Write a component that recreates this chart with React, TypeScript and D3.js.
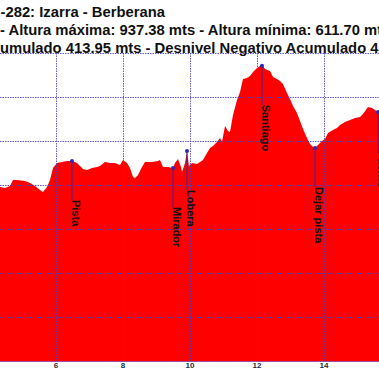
import React from 'react';
import * as d3 from 'd3';

const distKm = [4.0, 4.328, 4.478, 4.627, 4.716, 4.836, 5.075, 5.224, 5.373, 5.522, 5.612, 5.731, 5.821, 5.91, 6.03, 6.179, 6.328, 6.478, 6.627, 6.806, 6.925, 7.075, 7.224, 7.313, 7.463, 7.612, 7.761, 7.91, 8.0, 8.119, 8.209, 8.299, 8.358, 8.448, 8.567, 8.657, 8.866, 9.045, 9.104, 9.194, 9.343, 9.493, 9.552, 9.642, 9.731, 9.761, 9.851, 9.91, 9.97, 10.06, 10.209, 10.299, 10.388, 10.507, 10.597, 10.687, 10.806, 10.896, 10.955, 11.045, 11.134, 11.194, 11.284, 11.403, 11.493, 11.582, 11.701, 11.791, 11.881, 12.0, 12.09, 12.149, 12.239, 12.388, 12.478, 12.597, 12.687, 12.776, 12.896, 12.985, 13.075, 13.194, 13.284, 13.373, 13.493, 13.582, 13.672, 13.731, 13.821, 13.94, 14.03, 14.119, 14.269, 14.388, 14.478, 14.627, 14.776, 14.925, 15.075, 15.164, 15.313, 15.433, 15.522, 15.612, 15.8, 16.0];
const elevM = [796, 797.7, 796.6, 798.9, 805.7, 805.7, 804.5, 802.3, 798.9, 794.3, 792.0, 797.7, 805.7, 819.3, 825.0, 826.1, 827.3, 827.3, 825.0, 818.2, 817.0, 819.3, 820.5, 821.6, 826.1, 825.0, 825.0, 822.7, 828.4, 825.0, 819.3, 809.1, 808.0, 811.4, 820.5, 826.1, 826.1, 827.3, 828.4, 820.5, 820.5, 819.3, 825.0, 829.5, 820.5, 814.8, 825.0, 838.6, 821.6, 825.0, 823.9, 826.1, 828.4, 836.4, 842.0, 844.3, 848.9, 853.4, 848.9, 867.0, 861.4, 860.2, 879.5, 896.6, 905.7, 920.5, 921.6, 923.9, 928.4, 933.0, 935.2, 937.38, 931.8, 929.5, 922.7, 920.5, 918.2, 914.8, 904.5, 897.7, 889.8, 881.8, 872.7, 863.6, 853.4, 846.6, 843.2, 842.0, 845.5, 850.0, 852.3, 859.1, 862.5, 864.8, 868.2, 871.6, 873.9, 876.1, 877.3, 880.7, 888.6, 887.5, 885.2, 883.0, 880, 878];

const wpNames = ['Pista', 'Mirador', 'Lobera', 'Santiago', 'Dejar pista', 'Fuente'];
const wpKm = [6.478, 9.493, 9.91, 12.149, 13.731, 15.612];
const wpElev = [827.3, 819.3, 838.6, 935.5, 842.0, 883.0];

const xTicks = [6, 8, 10, 12, 14];
const yGrid = [600, 650, 700, 750, 800, 850, 900, 950];

const title1Prefix = 'GR';
const title1 = '-282: Izarra - Berberana';
const title2 = '- Altura máxima: 937.38 mts - Altura mínima: 611.70 mts';
const title3Prefix = 'Desnivel Positivo Ac';
const title3 = 'umulado 413.95 mts - Desnivel Negativo Acumulado 412.40 mts';

export default function App() {
  const W = 379, H = 379;
  const x = d3.scaleLinear().domain([4, 16]).range([-11, 391]);
  const y = d3.scaleLinear().domain([600, 950]).range([361, 53]);
  const area = d3.area<number>()
    .x((_, i) => x(distKm[i]))
    .y0(y(600))
    .y1(d => y(d));
  const font = '"Liberation Sans", Arial, sans-serif';
  const titleStyle = { fontFamily: font, fontWeight: 700, fontSize: '14.8px', fill: '#111' } as const;
  return (
    <svg width={W} height={H} style={{ position: 'absolute', left: 0, top: 0, background: '#fff' }}>
      <rect width={W} height={H} fill="#fff" />
      <path d={area(elevM) || ''} fill="#ff0000" />
      {yGrid.map(v => (
        <line key={'h' + v} x1={0} x2={W} y1={y(v) + 0.5} y2={y(v) + 0.5} stroke="#4a40c0" strokeWidth={1} strokeDasharray="1.5,1" strokeOpacity={0.85} />
      ))}
      {xTicks.map(v => (
        <line key={'v' + v} x1={Math.round(x(v)) + 0.5} x2={Math.round(x(v)) + 0.5} y1={y(950)} y2={y(600)} stroke="#4a40c0" strokeWidth={1} strokeDasharray="1.5,1" strokeOpacity={0.85} />
      ))}
      <line x1={0} x2={W} y1={y(600) + 0.5} y2={y(600) + 0.5} stroke="#a0509a" strokeWidth={1} />
      {xTicks.map(v => (
        <text key={'t' + v} x={x(v)} y={y(600) + 7} textAnchor="middle" style={{ fontFamily: font, fontWeight: 700, fontSize: '8px', fill: '#1e2e3a' }}>{v}</text>
      ))}
      {wpNames.map((n, i) => {
        const px = x(wpKm[i]);
        const py = y(wpElev[i]);
        return (
          <g key={n}>
            <line x1={px} x2={px} y1={py} y2={py + 39} stroke="#3a2a9a" strokeWidth={1} />
            <circle cx={px} cy={py} r={2} fill="#2a2ab8" />
            <text transform={`translate(${px},${py + 39}) rotate(90)`} x={0} y={0} style={{ fontFamily: font, fontWeight: 700, fontSize: '11px', fill: '#111' }}>{n}</text>
          </g>
        );
      })}
      <text x={0.5} y={17} textAnchor="end" style={titleStyle}>{title1Prefix}</text>
      <text x={0.5} y={17} style={titleStyle}>{title1}</text>
      <text x={0} y={35} style={titleStyle}>{title2}</text>
      <text x={0} y={53} textAnchor="end" style={titleStyle}>{title3Prefix}</text>
      <text x={0} y={53} style={titleStyle}>{title3}</text>
    </svg>
  );
}
